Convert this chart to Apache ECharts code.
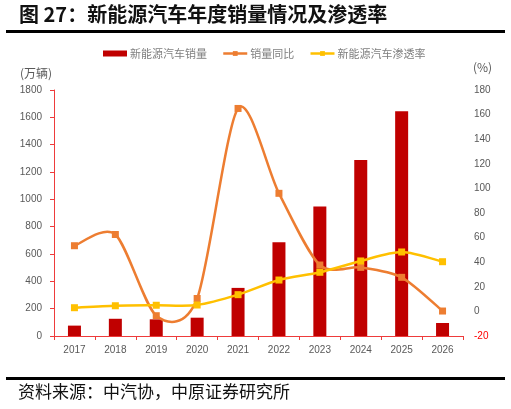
<!DOCTYPE html>
<html>
<head>
<meta charset="utf-8">
<script src="https://cdn.jsdelivr.net/npm/echarts@6/dist/echarts.min.js"></script>
<style>
html,body{margin:0;padding:0;background:#fff;}
#c{width:511px;height:409px;}
</style>
</head>
<body>
<div id="c"></div>
<script>
var years = ['2017','2018','2019','2020','2021','2022','2023','2024','2025','2026'];
var salesNEV = [76, 126, 122, 134, 352, 686, 947, 1287, 1645, 95];
var salesYoY = [53.4, 62.5, -3.5, 10.5, 165, 96, 37.7, 35.8, 27.7, 0.3];
var penetration = [3.0, 4.6, 5.0, 5.2, 13.6, 25.5, 31.8, 41.0, 48.3, 40.4];
var leftTicks = {min: 0, max: 1800, interval: 200};
var rightTicks = {min: -20, max: 180, interval: 20};

var FONT = '"Noto Sans CJK SC", "Noto Sans", sans-serif';
var LAT = '"Liberation Sans", "Noto Sans", sans-serif';
var axisRed = '#EE3B3B';
var gray = '#595959';
var ORANGE = '#ED7D31';
var YELLOW = '#FFC000';
var K = 0.14;

function smoothCurve(arr, color) {
  return function (params, api) {
    var i = params.dataIndex, n = arr.length;
    if (i >= n - 1) return null;
    function P(j) { j = Math.max(0, Math.min(n - 1, j)); return api.coord([j, arr[j]]); }
    var p0 = P(i - 1), p1 = P(i), p2 = P(i + 1), p3 = P(i + 2);
    return {
      type: 'bezierCurve',
      silent: true,
      shape: {
        x1: p1[0], y1: p1[1], x2: p2[0], y2: p2[1],
        cpx1: p1[0] + (p2[0] - p0[0]) * K, cpy1: p1[1] + (p2[1] - p0[1]) * K,
        cpx2: p2[0] - (p3[0] - p1[0]) * K, cpy2: p2[1] - (p3[1] - p1[1]) * K
      },
      style: {stroke: color, lineWidth: 2.5, fill: null, lineCap: 'round'}
    };
  };
}
function pairs(arr) { return arr.map(function (v, i) { return [i, v]; }); }

var chart = echarts.init(document.getElementById('c'));
chart.setOption({
  animation: false,
  backgroundColor: '#fff',
  textStyle: {fontFamily: FONT},
  graphic: [
    {type: 'text', left: 19, top: 4, style: {text: '图 27：新能源汽车年度销量情况及渗透率', font: 'bold 20px ' + FONT, fill: '#111'}},
    {type: 'rect', shape: {x: 6, y: 30, width: 499, height: 3}, style: {fill: '#000'}},
    {type: 'rect', shape: {x: 6, y: 377, width: 499, height: 3}, style: {fill: '#000'}},
    {type: 'text', left: 18, top: 383, style: {text: '资料来源：中汽协，中原证券研究所', font: '17px ' + FONT, fill: '#111'}},
    {type: 'text', left: 20, top: 67, style: {text: '(万辆)', font: '12px ' + FONT, fill: gray}},
    {type: 'text', left: 473, top: 61, style: {text: '(%)', font: '12px ' + FONT, fill: gray}}
  ],
  legend: {
    top: 43,
    left: 98,
    itemWidth: 24,
    itemHeight: 6,
    itemGap: 15,
    textStyle: {color: '#7f7f7f', fontSize: 11, fontFamily: FONT, padding: [0, 0, 0, -2]},
    data: [
      {name: '新能源汽车销量', icon: 'rect'},
      {name: '销量同比', lineStyle: {color: ORANGE, width: 2.5, opacity: 1}},
      {name: '新能源汽车渗透率', lineStyle: {color: YELLOW, width: 2.5, opacity: 1}}
    ]
  },
  grid: {left: 54, right: 48, top: 90, bottom: 73},
  xAxis: {
    type: 'category',
    data: years,
    boundaryGap: true,
    axisLine: {lineStyle: {color: axisRed, width: 1}},
    axisTick: {show: true, length: 4, lineStyle: {color: axisRed}},
    axisLabel: {color: gray, fontSize: 10, fontFamily: LAT, margin: 9}
  },
  yAxis: [
    {
      type: 'value',
      min: leftTicks.min, max: leftTicks.max, interval: leftTicks.interval,
      axisLine: {show: true, lineStyle: {color: axisRed}},
      axisTick: {show: true, length: 4, lineStyle: {color: axisRed}},
      axisLabel: {color: gray, fontSize: 10, fontFamily: LAT, margin: 12,
        formatter: function (v) { return String(v); }},
      splitLine: {show: false}
    },
    {
      type: 'value',
      position: 'right',
      min: rightTicks.min, max: rightTicks.max, interval: rightTicks.interval,
      axisLine: {show: false},
      axisTick: {show: false},
      axisLabel: {
        fontSize: 10, fontFamily: LAT, margin: 11,
        formatter: function (v) { return String(v); },
        color: function (v) { return Number(v) < 0 ? '#FF0000' : gray; }
      },
      splitLine: {show: false}
    }
  ],
  series: [
    {
      name: '新能源汽车销量',
      type: 'bar',
      yAxisIndex: 0,
      data: salesNEV,
      barWidth: 13,
      itemStyle: {color: '#C00000'}
    },
    {
      name: '销量同比曲线',
      type: 'custom',
      yAxisIndex: 1,
      data: pairs(salesYoY),
      encode: {x: 0, y: 1},
      renderItem: smoothCurve(salesYoY, ORANGE),
      z: 3
    },
    {
      name: '销量同比',
      type: 'line',
      yAxisIndex: 1,
      data: salesYoY,
      symbol: 'rect',
      symbolSize: 7,
      lineStyle: {color: ORANGE, width: 2.5, opacity: 0},
      itemStyle: {color: ORANGE},
      z: 4
    },
    {
      name: '渗透率曲线',
      type: 'custom',
      yAxisIndex: 1,
      data: pairs(penetration),
      encode: {x: 0, y: 1},
      renderItem: smoothCurve(penetration, YELLOW),
      z: 5
    },
    {
      name: '新能源汽车渗透率',
      type: 'line',
      yAxisIndex: 1,
      data: penetration,
      symbol: 'rect',
      symbolSize: 7,
      lineStyle: {color: YELLOW, width: 2.5, opacity: 0},
      itemStyle: {color: YELLOW},
      z: 6
    }
  ]
});
</script>
</body>
</html>
